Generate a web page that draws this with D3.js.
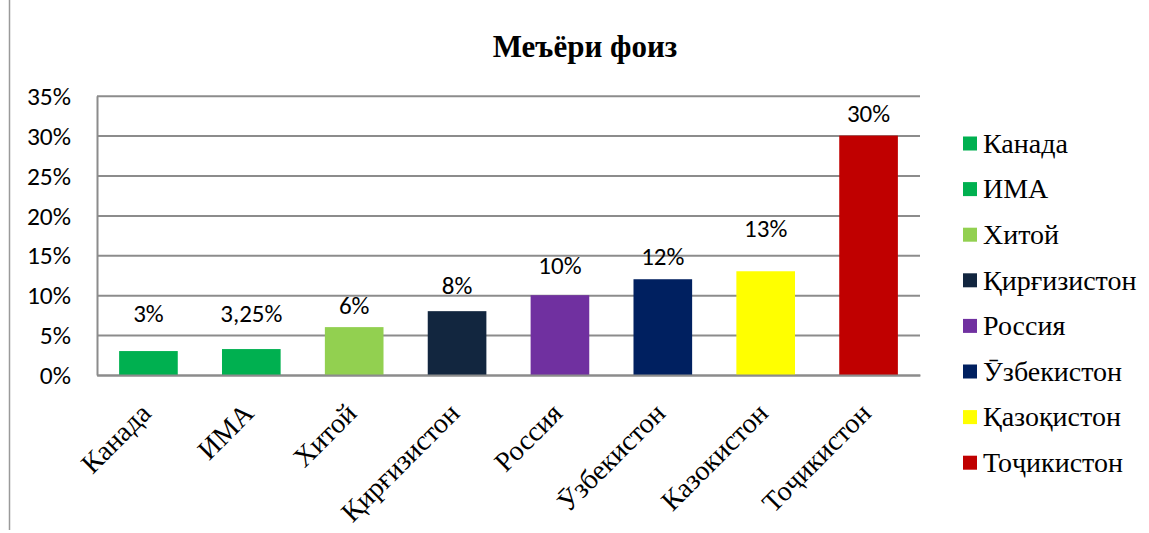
<!DOCTYPE html>
<html>
<head>
<meta charset="utf-8">
<script src="https://cdn.jsdelivr.net/npm/d3@7"></script>
<style>
  html, body { margin: 0; padding: 0; background: #fff; }
  svg { display: block; }
</style>
</head>
<body>
<svg id="chart" width="1149" height="533"></svg>
<script>
// ---- data ----
const categories = ["Канада", "ИМА", "Хитой", "Қирғизистон", "Россия", "Ӯзбекистон", "Казокистон", "Тоҷикистон"];
const legendNames = ["Канада", "ИМА", "Хитой", "Қирғизистон", "Россия", "Ӯзбекистон", "Қазоқистон", "Тоҷикистон"];
const values = [3, 3.25, 6, 8, 10, 12, 13, 30];
const valueLabels = ["3%", "3,25%", "6%", "8%", "10%", "12%", "13%", "30%"];
const colors = ["#00B050", "#00B050", "#92D050", "#12263F", "#7030A0", "#002060", "#FFFF00", "#C00000"];
const yTicks = [0, 5, 10, 15, 20, 25, 30, 35];
const title = "Меъёри фоиз";

// ---- layout ----
const SERIF = "Liberation Serif";
const SANS = "Carlito";
const plot = { left: 97, right: 920, top: 95.7, bottom: 375 };
const labelLift = [38, 36, 22, 26, 30, 23, 43, 22]; // px from bar top to label centre
const svg = d3.select("#chart");

const x = d3.scaleBand().domain(categories).range([plot.left, plot.right]).paddingInner(0.43).paddingOuter(0.215);
const y = d3.scaleLinear().domain([0, 35]).range([plot.bottom, plot.top]);

// outer left border line
svg.append("line").attr("x1", 9.5).attr("x2", 9.5).attr("y1", 0).attr("y2", 530)
  .attr("stroke", "#9a9a9a").attr("stroke-width", 1.5);

// title
svg.append("text").attr("font-family", SERIF).attr("x", 585).attr("y", 57).attr("text-anchor", "middle")
  .attr("font-weight", "bold").attr("font-size", 31).attr("fill", "#000").text(title);

// gridlines
const grid = d3.axisLeft(y).tickValues(yTicks).tickSize(-(plot.right - plot.left)).tickFormat("");
svg.append("g").attr("transform", `translate(${plot.left},0)`).call(grid)
  .call(g => g.select(".domain").remove())
  .call(g => g.selectAll("line").attr("stroke", "#8c8c8c").attr("stroke-width", 2));

// y axis labels + line
const yAxis = d3.axisLeft(y).tickValues(yTicks).tickSize(0).tickPadding(26).tickFormat(d => d + "%");
svg.append("g").attr("transform", `translate(${plot.left},0)`).call(yAxis)
  .attr("font-family", SANS).attr("font-size", 25.5)
  .call(g => g.select(".domain").attr("stroke", "#8c8c8c").attr("stroke-width", 2))
  .call(g => g.selectAll("text").attr("fill", "#000").attr("dy", "0.34em"));

// bars
svg.append("g").selectAll("rect").data(values).join("rect")
  .attr("x", (d, i) => x(categories[i]))
  .attr("width", x.bandwidth())
  .attr("y", d => y(d))
  .attr("height", d => y(0) - y(d))
  .attr("fill", (d, i) => colors[i]);

// x axis
const xAxis = d3.axisBottom(x).tickSize(0).tickFormat("");
svg.append("g").attr("transform", `translate(0,${plot.bottom})`).call(xAxis)
  .call(g => g.select(".domain").attr("stroke", "#8c8c8c").attr("stroke-width", 2));

// rotated category labels
svg.append("g").selectAll("text").data(categories).join("text")
  .attr("font-family", SERIF)
  .attr("transform", d => `translate(${x(d) + x.bandwidth() / 2 + 4},${plot.bottom + 40}) rotate(-45)`)
  .attr("text-anchor", "end")
  .attr("font-size", 28).attr("fill", "#000").text(d => d);

// value labels
svg.append("g").selectAll("text").data(values).join("text")
  .attr("font-family", SANS)
  .attr("x", (d, i) => x(categories[i]) + x.bandwidth() / 2)
  .attr("y", (d, i) => y(d) - labelLift[i])
  .attr("dy", "0.34em")
  .attr("text-anchor", "middle")
  .attr("font-size", 25).attr("fill", "#000")
  .text((d, i) => valueLabels[i]);

// legend
const legend = svg.append("g").selectAll("g").data(legendNames).join("g")
  .attr("transform", (d, i) => `translate(963,${143.5 + i * 45.6})`);
legend.append("rect").attr("x", 0).attr("y", -7).attr("width", 14).attr("height", 14)
  .attr("fill", (d, i) => colors[i]);
legend.append("text").attr("font-family", SERIF).attr("x", 20).attr("y", 0).attr("dy", "0.33em")
  .attr("font-size", 28).attr("fill", "#000").text(d => d);
</script>
</body>
</html>
